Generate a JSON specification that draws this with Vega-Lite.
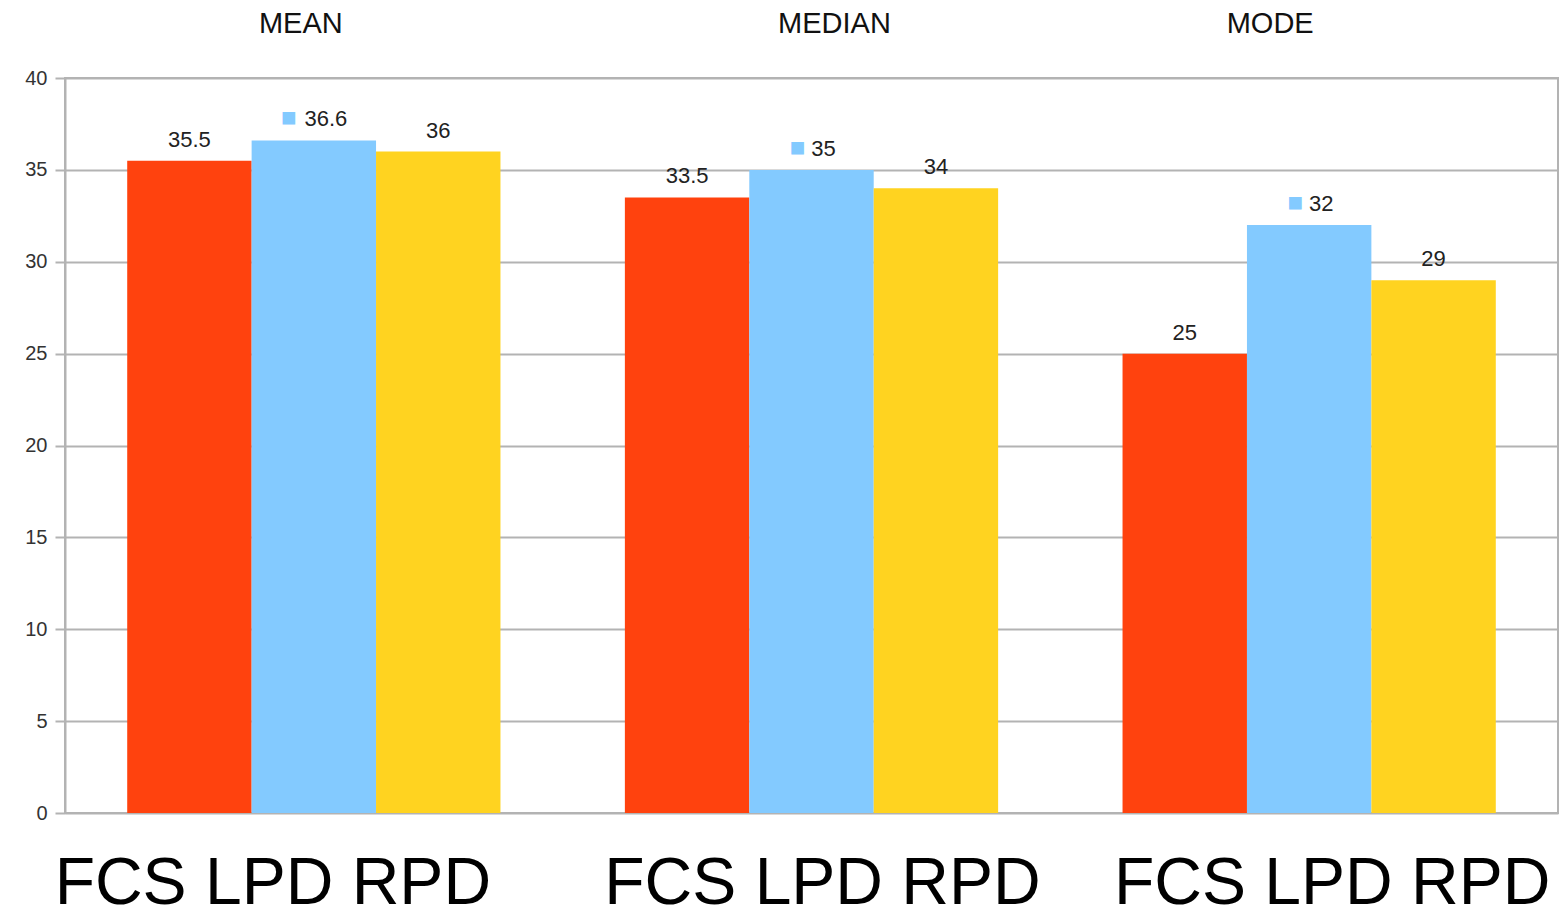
{
  "$schema": "https://vega.github.io/schema/vega-lite/v6.json",
  "width": 1493,
  "height": 735,
  "autosize": "none",
  "padding": {"left": 65, "top": 78, "right": 2, "bottom": 104},
  "background": "white",
  "config": {
    "font": "Liberation Sans",
    "view": {"stroke": "#b3b3b3", "strokeWidth": 2}
  },
  "data": {
    "values": [
      {"group": "MEAN", "series": "FCS", "value": 35.5},
      {"group": "MEAN", "series": "LPD", "value": 36.6},
      {"group": "MEAN", "series": "RPD", "value": 36},
      {"group": "MEDIAN", "series": "FCS", "value": 33.5},
      {"group": "MEDIAN", "series": "LPD", "value": 35},
      {"group": "MEDIAN", "series": "RPD", "value": 34},
      {"group": "MODE", "series": "FCS", "value": 25},
      {"group": "MODE", "series": "LPD", "value": 32},
      {"group": "MODE", "series": "RPD", "value": 29}
    ]
  },
  "encoding": {
    "x": {
      "field": "group",
      "type": "nominal",
      "sort": ["MEAN", "MEDIAN", "MODE"],
      "scale": {"paddingInner": 0.25, "paddingOuter": 0.125},
      "axis": null
    },
    "xOffset": {"field": "series", "type": "nominal", "sort": ["FCS", "LPD", "RPD"]},
    "y": {
      "field": "value",
      "type": "quantitative",
      "scale": {"domain": [0, 40], "nice": false},
      "axis": {
        "title": null,
        "values": [0, 5, 10, 15, 20, 25, 30, 35, 40],
        "labelFontSize": 20,
        "labelColor": "#333333",
        "labelPadding": 8,
        "tickSize": 10,
        "tickColor": "#b3b3b3",
        "tickWidth": 2,
        "domainColor": "#b3b3b3",
        "domainWidth": 2,
        "gridColor": "#b3b3b3",
        "gridWidth": 2
      }
    }
  },
  "layer": [
    {
      "mark": {"type": "bar"},
      "encoding": {
        "x": {
          "field": "group",
          "type": "nominal",
          "sort": ["MEAN", "MEDIAN", "MODE"],
          "scale": {"paddingInner": 0.25, "paddingOuter": 0.125},
          "axis": {
            "orient": "bottom",
            "title": null,
            "labelAngle": 0,
            "labelExpr": "'FCS LPD RPD'",
            "labelFontSize": 66,
            "labelLimit": 0,
            "labelColor": "#000000",
            "labelBaseline": "alphabetic",
            "labelPadding": 90,
            "labelOffset": {
              "condition": [
                {"test": "datum.value === 'MEAN'", "value": -41},
                {"test": "datum.value === 'MODE'", "value": 23}
              ],
              "value": 11
            },
            "ticks": false,
            "domain": false
          }
        },
        "color": {
          "field": "series",
          "type": "nominal",
          "scale": {"domain": ["FCS", "LPD", "RPD"], "range": ["#FF420E", "#83CAFF", "#FFD320"]},
          "legend": null
        }
      }
    },
    {
      "transform": [{"filter": "datum.series !== 'LPD'"}],
      "mark": {"type": "text", "baseline": "bottom", "dy": -9, "fontSize": 22, "color": "#222222"},
      "encoding": {
        "x": {
          "field": "group",
          "type": "nominal",
          "sort": ["MEAN", "MEDIAN", "MODE"],
          "scale": {"paddingInner": 0.25, "paddingOuter": 0.125},
          "axis": {
            "orient": "top",
            "title": null,
            "labelAngle": 0,
            "labelFontSize": 29,
            "labelLimit": 0,
            "labelColor": "#111111",
            "labelPadding": 40,
            "labelOffset": {
              "condition": [
                {"test": "datum.value === 'MEAN'", "value": -13},
                {"test": "datum.value === 'MODE'", "value": -39}
              ],
              "value": 23
            },
            "ticks": false,
            "domain": false
          }
        },
        "text": {"field": "value", "type": "quantitative"}
      }
    },
    {
      "transform": [{"filter": "datum.series === 'LPD'"}],
      "mark": {"type": "text", "baseline": "bottom", "dy": -9, "dx": 12, "fontSize": 22, "color": "#222222"},
      "encoding": {
        "text": {"field": "value", "type": "quantitative"}
      }
    },
    {
      "transform": [{"filter": "datum.series === 'LPD' && datum.group !== 'MEAN'"}],
      "mark": {"type": "text", "baseline": "bottom", "align": "right", "dy": -9, "dx": -6, "fontSize": 26, "color": "#83CAFF", "text": "■"},
      "encoding": {}
    },
    {
      "transform": [{"filter": "datum.series === 'LPD' && datum.group === 'MEAN'"}],
      "mark": {"type": "text", "baseline": "bottom", "align": "right", "dy": -9, "dx": -17, "fontSize": 26, "color": "#83CAFF", "text": "■"},
      "encoding": {}
    }
  ],
  "resolve": {"axis": {"x": "independent"}}
}
